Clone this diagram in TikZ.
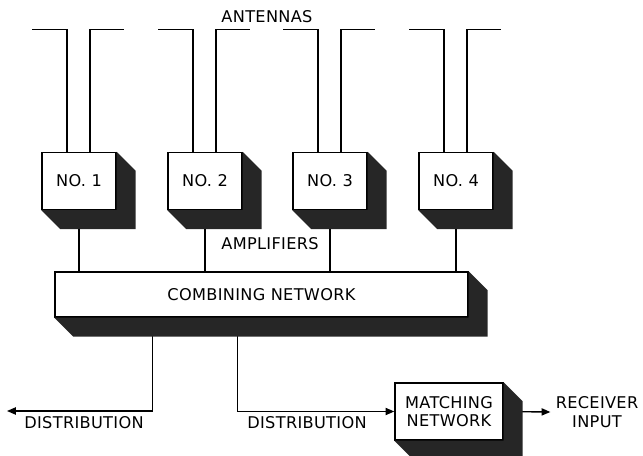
\documentclass[tikz,border=0pt]{standalone}
\usepackage{fontspec}
\setmainfont{DejaVu Sans}[LetterSpace=2]
\usetikzlibrary{arrows.meta}

\begin{document}
\begin{tikzpicture}[x=0.25mm, y=-0.25mm, line width=1pt,
  font=\fontsize{11.5}{13}\selectfont,
  unit/.style={draw, fill=white, inner sep=0pt, align=center},
  shadecol/.style={fill=black!85},
  flow/.style={-{Triangle[length=2.2mm,width=1.8mm]}}]
\useasboundingbox (0,0) rectangle (643,456);
\def\d{19}
% amplifiers and their antennas
\foreach \i/\x in {1/79,2/205,3/330,4/456} {
  \node[unit, minimum width=18.5mm, minimum height=14.25mm] (amp\i) at (\x,181) {NO.~\i};
  \draw ([xshift=-3mm]amp\i.north) -- ++(0,-122) -- ++(-35,0);
  \draw ([xshift=2.75mm]amp\i.north) -- ++(0,-122) -- ++(34,0);
}
\node (antlbl) at (267,17) {ANTENNAS};
\node (amplbl) at (270,244) {AMPLIFIERS};
% combining and matching networks
\node[unit, minimum width=103.25mm, minimum height=11.25mm] (comb) at (261.5,294.5) {COMBINING NETWORK};
\node[unit, minimum width=27mm, minimum height=14.25mm] (match) at (449,411.5) {MATCHING\\NETWORK};
\node[align=center] (rcv) at (597,412) {RECEIVER\\INPUT};
% connections
\foreach \i in {1,...,4}
  \draw (amp\i.south) -- (amp\i.south |- comb.north);
\coordinate (dist1) at (7,411);
\draw[flow] ([xshift=24.5mm]comb.south west) |- (dist1);
\draw[flow] ([xshift=45.75mm]comb.south west) |- (match.west);
\draw[flow] (match.east) -- (rcv.west);
\node (dlbl1) at (84,423) {DISTRIBUTION};
\node (dlbl2) at (307,423) {DISTRIBUTION};
% block shadows
\foreach \n in {amp1,amp2,amp3,amp4,comb,match}
  \fill[shadecol] (\n.north east) -- ++(\d,\d) -- ([shift={(\d,\d)}]\n.south east)
    -- ([shift={(\d,\d)}]\n.south west) -- (\n.south west) -- (\n.south east) -- cycle;
\end{tikzpicture}
\end{document}
